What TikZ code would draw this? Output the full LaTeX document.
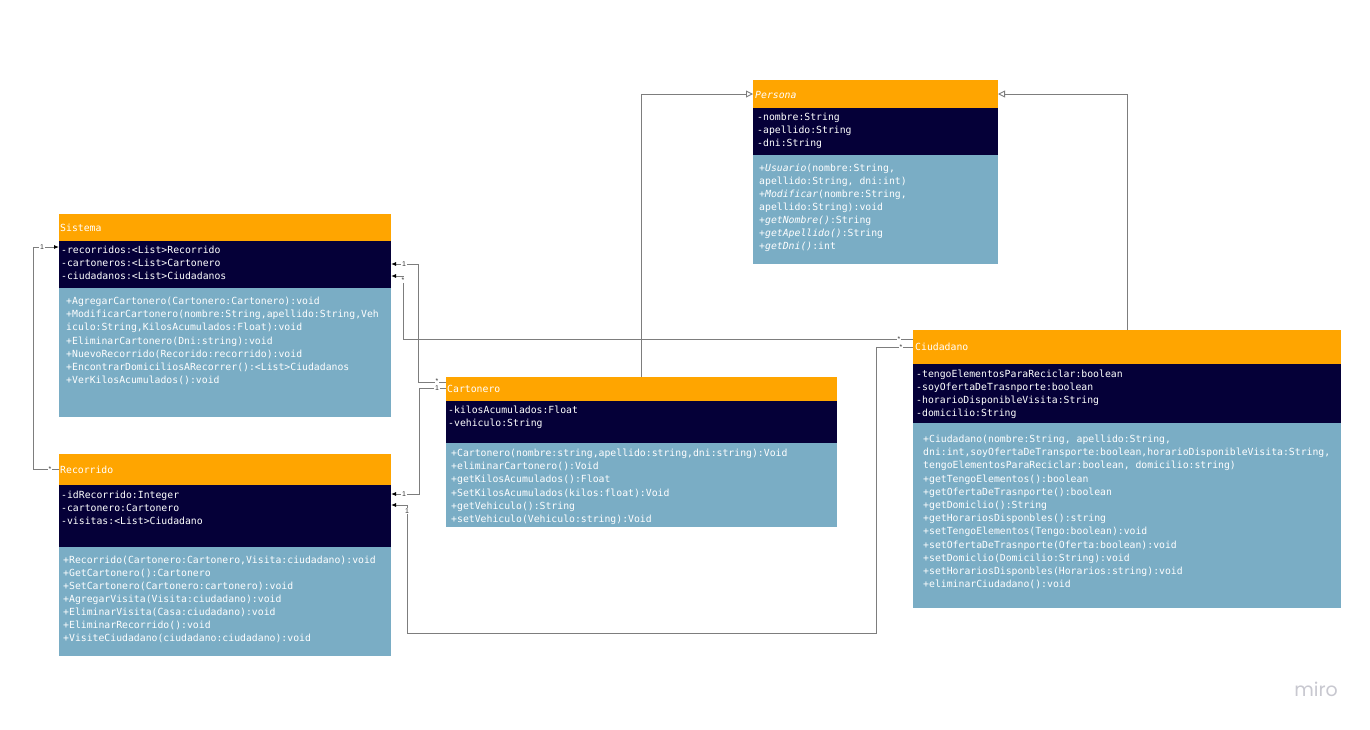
\documentclass[tikz,border=0pt]{standalone}
\usepackage{fontspec}
\setmonofont{DejaVu Sans Mono}
\newfontfamily\multfont{Liberation Sans}
\newfontfamily\logofont{Poppins}
\usetikzlibrary{arrows.meta}

\definecolor{classhead}{RGB}{255,165,0}
\definecolor{classattr}{RGB}{5,0,56}
\definecolor{classops}{RGB}{122,173,197}
\definecolor{wire}{RGB}{125,125,125}
\definecolor{logogray}{RGB}{200,200,208}

\tikzset{
  part/.style={anchor=north west, inner sep=0pt, outer sep=0pt, draw=none},
  headpart/.style={part, fill=classhead},
  attrpart/.style={part, fill=classattr},
  opspart/.style={part, fill=classops},
  row/.style={anchor=base west, inner sep=0pt, text=white,
    font=\ttfamily\fontsize{9.8}{12}\selectfont},
  wire/.style={draw=wire, line width=0.9pt},
  assoc/.style={wire, -{Latex[length=5pt,width=4pt,color=black]}},
  inherit/.style={wire, -{Triangle[open,length=7pt,width=7pt,fill=white,color=wire]}},
  mult/.style={font=\multfont\fontsize{7}{7}\selectfont, text=black!80,
    fill=white, inner sep=0.8pt},
}

% many-multiplicity mark, lowered onto the line
\newcommand\many{\raisebox{-1.6pt}{*}}

% one text node per compartment line: prefix, x, first baseline, line step, lines
\newcommand\classrows[5]{%
  \foreach \t [count=\i] in {#5} {\node[row] (#1-\i) at (#2,{#3+1+#4*(\i-1)}) {\t};}}

\begin{document}
\begin{tikzpicture}[x=1pt,y=-1pt]
\useasboundingbox (0,0) rectangle (1370,729);
\fill[white] (0,0) rectangle (1370,729);

% ---------------- Persona ----------------
\node[headpart, minimum width=245, minimum height=28] (persH) at (753,80) {};
\node[attrpart, minimum width=245, minimum height=47] (persA) at (753,108) {};
\node[opspart,  minimum width=245, minimum height=109] (persO) at (753,155) {};
\node[row] (persT) at (755,98.5) {\itshape Persona};
\classrows{persAttr}{757}{119.5}{13}{{-nombre:String},{-apellido:String},{-dni:String}}
\classrows{persOp}{759}{170.5}{13}{%
  {\textit{+Usuario}(nombre:String,},
  {apellido:String, dni:int)},
  {\textit{+Modificar}(nombre:String,},
  {apellido:String):void},
  {\textit{+getNombre()}:String},
  {\textit{+getApellido()}:String},
  {\textit{+getDni()}:int}}

% ---------------- Sistema ----------------
\node[headpart, minimum width=332, minimum height=27] (sisH) at (59,214) {};
\node[attrpart, minimum width=332, minimum height=47] (sisA) at (59,241) {};
\node[opspart,  minimum width=332, minimum height=129] (sisO) at (59,288) {};
\node[row] (sisT) at (60,231.5) {Sistema};
\classrows{sisAttr}{61}{252.5}{13}{%
  {-recorridos:<List>Recorrido},{-cartoneros:<List>Cartonero},{-ciudadanos:<List>Ciudadanos}}
\classrows{sisOp}{66}{303.5}{13.17}{%
  {+AgregarCartonero(Cartonero:Cartonero):void},
  {+ModificarCartonero(nombre:String,apellido:String,Veh},
  {iculo:String,KilosAcumulados:Float):void},
  {+EliminarCartonero(Dni:string):void},
  {+NuevoRecorrido(Recorido:recorrido):void},
  {+EncontrarDomiciliosARecorrer():<List>Ciudadanos},
  {+VerKilosAcumulados():void}}

% ---------------- Recorrido ----------------
\node[headpart, minimum width=332, minimum height=31] (recH) at (59,454) {};
\node[attrpart, minimum width=332, minimum height=62] (recA) at (59,485) {};
\node[opspart,  minimum width=332, minimum height=109] (recO) at (59,547) {};
\node[row] (recT) at (60,473.5) {Recorrido};
\classrows{recAttr}{61}{497.5}{13}{%
  {-idRecorrido:Integer},{-cartonero:Cartonero},{-visitas:<List>Ciudadano}}
\classrows{recOp}{63}{562.5}{13}{%
  {+Recorrido(Cartonero:Cartonero,Visita:ciudadano):void},
  {+GetCartonero():Cartonero},
  {+SetCartonero(Cartonero:cartonero):void},
  {+AgregarVisita(Visita:ciudadano):void},
  {+EliminarVisita(Casa:ciudadano):void},
  {+EliminarRecorrido():void},
  {+VisiteCiudadano(ciudadano:ciudadano):void}}

% ---------------- Cartonero ----------------
\node[headpart, minimum width=391, minimum height=24] (cartH) at (446,377) {};
\node[attrpart, minimum width=391, minimum height=42] (cartA) at (446,401) {};
\node[opspart,  minimum width=391, minimum height=84] (cartO) at (446,443) {};
\node[row] (cartT) at (447,392.5) {Cartonero};
\classrows{cartAttr}{448}{412.5}{13}{{-kilosAcumulados:Float},{-vehiculo:String}}
\classrows{cartOp}{451}{455.5}{13.2}{%
  {+Cartonero(nombre:string,apellido:string,dni:string):Void},
  {+eliminarCartonero():Void},
  {+getKilosAcumulados():Float},
  {+SetKilosAcumulados(kilos:float):Void},
  {+getVehiculo():String},
  {+setVehiculo(Vehiculo:string):Void}}

% ---------------- Ciudadano ----------------
\node[headpart, minimum width=428, minimum height=34] (ciuH) at (913,330) {};
\node[attrpart, minimum width=428, minimum height=59] (ciuA) at (913,364) {};
\node[opspart,  minimum width=428, minimum height=185] (ciuO) at (913,423) {};
\node[row] (ciuT) at (915,350.5) {Ciudadano};
\classrows{ciuAttr}{916}{376.5}{13}{%
  {-tengoElementosParaReciclar:boolean},{-soyOfertaDeTrasnporte:boolean},
  {-horarioDisponibleVisita:String},{-domicilio:String}}
\classrows{ciuOp}{923}{441.5}{13.2}{%
  {+Ciudadano(nombre:String, apellido:String,},
  {dni:int,soyOfertaDeTransporte:boolean,horarioDisponibleVisita:String,},
  {tengoElementosParaReciclar:boolean, domicilio:string)},
  {+getTengoElementos():boolean},
  {+getOfertaDeTrasnporte():boolean},
  {+getDomiclio():String},
  {+getHorariosDisponbles():string},
  {+setTengoElementos(Tengo:boolean):void},
  {+setOfertaDeTrasnporte(Oferta:boolean):void},
  {+setDomiclio(Domicilio:String):void},
  {+setHorariosDisponbles(Horarios:string):void},
  {+eliminarCiudadano():void}}

% ---------------- connectors ----------------
% generalisation
\draw[inherit] (cartH.north) |- (persH.west);
\draw[inherit] (ciuH.north) |- (persH.east);
% Sistema -> Recorrido
\draw[assoc] (recH.west) -- ++(-26,0) |- ([yshift=-6pt]sisA.north west);
% Sistema -> Cartonero
\draw[assoc] ([yshift=-5pt]cartH.north west) -- ++(-28,0) |- ([yshift=-23pt]sisA.north east);
% Sistema -> Ciudadano
\draw[assoc] ([yshift=-9pt]ciuH.north west) -- ++(-510,0) |- ([yshift=-35pt]sisA.north east);
% Recorrido -> Cartonero
\draw[assoc] ([yshift=-11pt]cartH.north west) -- ++(-27,0) |- ([yshift=-9pt]recA.north east);
% Recorrido -> Ciudadano
\draw[assoc] ([yshift=-17pt]ciuH.north west) -- ++(-37,0) -- ++(0,286) -- ++(-469,0)
  |- ([yshift=-20pt]recA.north east);

% multiplicities
\node[mult] (m1) at (42,247) {1};
\node[mult] (m2) at (50,469.5) {\many};
\node[mult] (m3) at (404,264) {1};
\node[mult] (m4) at (403,280) {\many};
\node[mult] (m5) at (437,381) {\many};
\node[mult] (m6) at (437,388) {1};
\node[mult] (m7) at (404,494) {1};
\node[mult] (m8) at (407,511) {1};
\node[mult] (m9) at (899,339) {\many};
\node[mult] (m10) at (901,347) {\many};

% logo
\node[text=logogray, font=\logofont\fontsize{19}{19}\selectfont] (logo) at (1316,689) {miro};
\end{tikzpicture}
\end{document}
